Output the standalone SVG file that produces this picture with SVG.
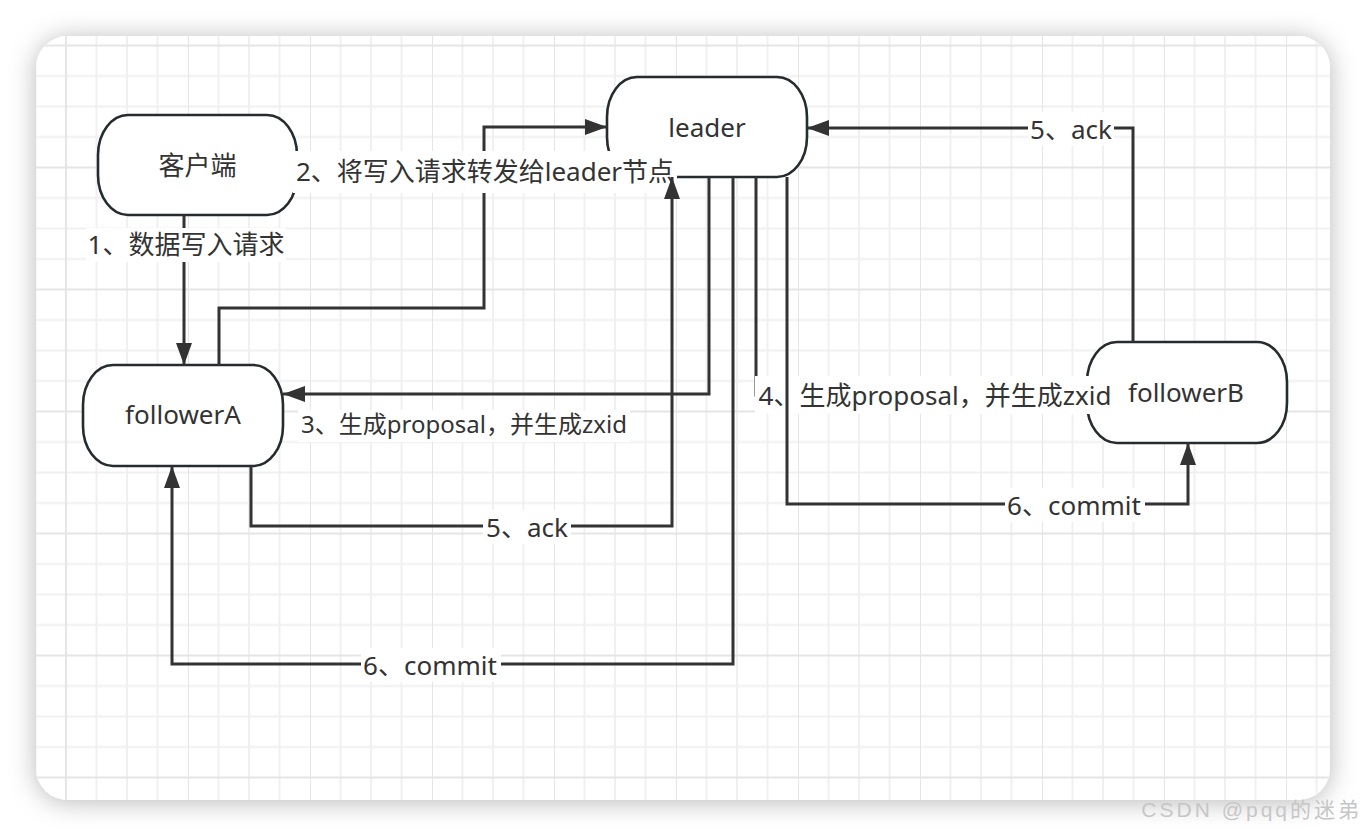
<svg xmlns="http://www.w3.org/2000/svg" width="1366" height="836" viewBox="0 0 1366 836">
<defs>
<filter id="shadow" x="-5%" y="-5%" width="110%" height="112%">
<feDropShadow dx="0" dy="2" stdDeviation="13" flood-color="#000" flood-opacity="0.28"/>
</filter>
<pattern id="grid" patternUnits="userSpaceOnUse" x="65" y="44.5" width="122" height="122">
<g stroke="#f0f0f0" stroke-width="2">
<line x1="31.5" y1="0" x2="31.5" y2="122"/>
<line x1="62" y1="0" x2="62" y2="122"/>
<line x1="92.5" y1="0" x2="92.5" y2="122"/>
<line x1="0" y1="31.5" x2="122" y2="31.5"/>
<line x1="0" y1="62" x2="122" y2="62"/>
<line x1="0" y1="92.5" x2="122" y2="92.5"/>
</g>
<g stroke="#e5e5e5" stroke-width="2">
<line x1="1" y1="0" x2="1" y2="122"/>
<line x1="0" y1="1" x2="122" y2="1"/>
</g>
</pattern>
<clipPath id="cardclip"><rect x="36" y="36" width="1294" height="764" rx="32" ry="32"/></clipPath>
<marker id="arrow" markerUnits="userSpaceOnUse" viewBox="0 0 22 16" markerWidth="22" markerHeight="16" refX="22" refY="8" orient="auto">
<path d="M0,0 L22,8 L0,16 Z" fill="#333"/>
</marker>
<style>
.node{fill:#fff;stroke:#262b30;stroke-width:2.6}
.conn{fill:none;stroke:#333;stroke-width:3;marker-end:url(#arrow)}
.t{font-family:"Noto Sans","Noto Sans CJK SC",sans-serif;font-size:26px;fill:#333;text-anchor:middle}
.bg{fill:#fff}
</style>
</defs>
<rect x="0" y="0" width="1366" height="836" fill="#fff"/>
<rect x="36" y="36" width="1294" height="764" rx="32" ry="32" fill="#fff" filter="url(#shadow)"/>
<rect x="36" y="36" width="1294" height="764" fill="url(#grid)" clip-path="url(#cardclip)"/>

<g id="node-client">
<rect class="node" x="98" y="115" width="199" height="100" rx="30" ry="40"/>
<text class="t" x="197.5" y="175">客户端</text>
</g>
<g id="node-leader">
<rect class="node" x="607" y="77" width="200" height="100" rx="30" ry="40"/>
<text class="t" x="707" y="137">leader</text>
</g>
<g id="node-followerA">
<rect class="node" x="83" y="365" width="200" height="101" rx="30" ry="40"/>
<text class="t" x="183" y="424">followerA</text>
</g>
<g id="node-followerB">
<rect class="node" x="1087" y="342" width="200" height="101" rx="30" ry="40"/>
<text class="t" x="1186" y="402">followerB</text>
</g>

<g id="connectors">
<path class="conn" d="M184,215 L184,365"/>
<rect class="bg" x="86" y="228" width="200" height="34"/>
<text class="t" x="186" y="254">1、数据写入请求</text>

<path class="conn" d="M219,365 L219,308 L484,308 L484,127 L607,127"/>
<rect class="bg" x="293" y="151" width="384" height="42"/>
<text class="t" x="485" y="181">2、将写入请求转发给leader节点</text>

<path class="conn" d="M709,177 L709,394 L283,394"/>
<rect class="bg" x="298" y="410" width="332" height="32"/>
<text class="t" x="464" y="433" style="font-size:24px">3、生成proposal，并生成zxid</text>

<path class="conn" d="M756,177 L756,395 L1087,395"/>
<rect class="bg" x="755" y="376" width="360" height="38"/>
<text class="t" x="935" y="405">4、生成proposal，并生成zxid</text>

<path class="conn" d="M733,177 L733,664 L172,664 L172,466"/>
<rect class="bg" x="361" y="648" width="140" height="34"/>
<text class="t" x="430" y="675">6、commit</text>

<path class="conn" d="M787,177 L787,504 L1188,504 L1188,443"/>
<rect class="bg" x="1005" y="488" width="140" height="34"/>
<text class="t" x="1074" y="515">6、commit</text>

<path class="conn" d="M251,466 L251,526 L672,526 L672,177"/>
<rect class="bg" x="483" y="510" width="88" height="34"/>
<text class="t" x="527" y="537">5、ack</text>

<path class="conn" d="M1133,342 L1133,128 L807,128"/>
<rect class="bg" x="1028" y="112" width="86" height="34"/>
<text class="t" x="1071" y="139">5、ack</text>
</g>

<text x="1362" y="817" text-anchor="end" font-family="'Liberation Sans','Noto Sans CJK SC',sans-serif" font-size="21" letter-spacing="3" fill="#c6c6c6">CSDN @pqq的迷弟</text>
</svg>
